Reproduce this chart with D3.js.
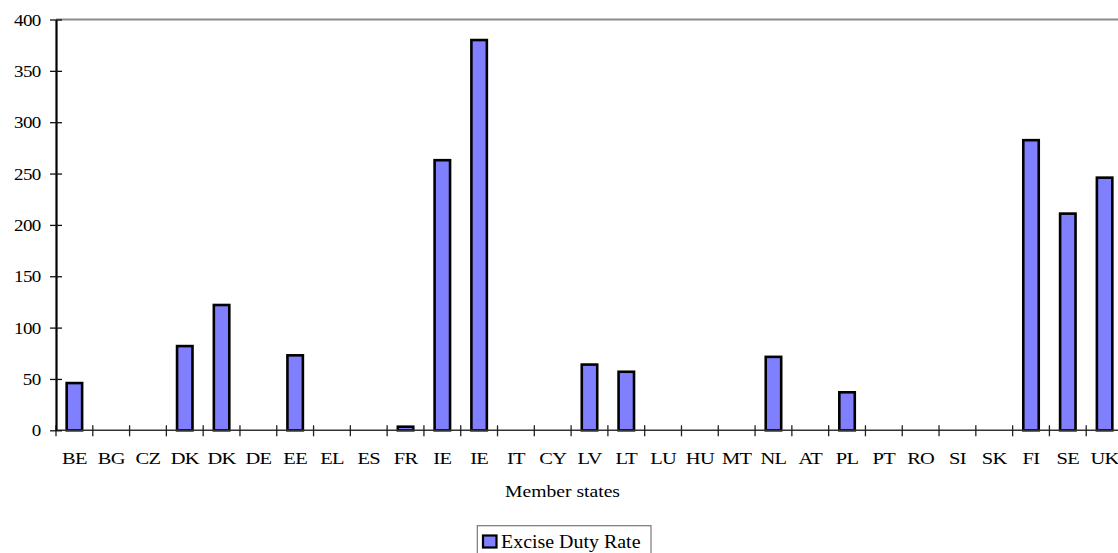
<!DOCTYPE html>
<html><head><meta charset="utf-8">
<script src="https://cdn.jsdelivr.net/npm/d3@7"></script>
<style>
html,body{margin:0;padding:0;background:#fff;}
svg{display:block;}
text{font-family:"Liberation Serif","Times New Roman",serif;fill:#000;}
</style></head>
<body>
<svg id="chart" width="1118" height="553"></svg>
<script>
const categories = ["BE","BG","CZ","DK","DK","DE","EE","EL","ES","FR","IE","IE","IT","CY","LV","LT","LU","HU","MT","NL","AT","PL","PT","RO","SI","SK","FI","SE","UK"];
const values = [46,0,0,82,122,0,73,0,0,3.5,263,380,0,0,64,57,0,0,0,71.5,0,37,0,0,0,0,282.5,211,246];
const yTicks = [0,50,100,150,200,250,300,350,400];
const seriesName = "Excise Duty Rate";
const xTitle = "Member states";

const svg = d3.select("#chart");
const mLeft = 56, mRight = 1123, mTop = 19.5, mBottom = 430.3;

const x = d3.scaleBand().domain(d3.range(categories.length)).range([mLeft, mRight])
  .paddingInner(0.58).paddingOuter(0.29);
const y = d3.scaleLinear().domain([0, 400]).range([mBottom, mTop]);

// top border of plot area
svg.append("line").attr("x1", mLeft).attr("x2", 1118).attr("y1", y(400)).attr("y2", y(400))
  .attr("stroke", "#8a8a8a").attr("stroke-width", 2);

// bars
svg.append("g").selectAll("rect").data(values.map((v, i) => ({v, i})).filter(d => d.v > 0)).join("rect")
  .attr("x", d => x(d.i))
  .attr("width", x.bandwidth())
  .attr("y", d => y(d.v))
  .attr("height", d => y(0) - y(d.v))
  .attr("fill", "#8080ff")
  .attr("stroke", "#000")
  .attr("stroke-width", 2.6);

// x axis: ticks at band boundaries
const step = x.step();
const boundaries = d3.range(categories.length + 1).map(i => mLeft + i * step);
const xg = svg.append("g");
xg.append("line").attr("x1", mLeft).attr("x2", 1118).attr("y1", mBottom).attr("y2", mBottom)
  .attr("stroke", "#333").attr("stroke-width", 1.6);
xg.selectAll("line.tk").data(boundaries).join("line").attr("class", "tk")
  .attr("x1", d => d).attr("x2", d => d).attr("y1", mBottom - 5).attr("y2", mBottom + 6)
  .attr("stroke", "#222").attr("stroke-width", 1.3);
xg.selectAll("text").data(categories).join("text")
  .attr("transform", (d, i) => `translate(${x(i) + x.bandwidth() / 2},${mBottom + 33.2}) scale(1.17,1)`)
  .attr("text-anchor", "middle")
  .attr("font-size", 17.5)
  .attr("letter-spacing", -0.6)
  .text(d => d);

// y axis
const yAxis = d3.axisLeft(y).tickValues(yTicks).tickSize(6).tickPadding(0).tickSizeOuter(0);
const yg = svg.append("g").attr("transform", `translate(${mLeft},0)`).call(yAxis);
yg.select(".domain").attr("stroke", "#000").attr("stroke-width", 2.2);
yg.selectAll(".tick line").attr("x1", 6).attr("x2", -6).attr("stroke", "#111").attr("stroke-width", 1.3);
yg.selectAll(".tick text")
  .attr("x", null).attr("dy", null)
  .attr("transform", "translate(-15.3,5.6) scale(1.15,1)")
  .attr("text-anchor", "end")
  .attr("font-size", 16.5)
  .attr("letter-spacing", -0.5)
  .attr("fill", "#000");

// x title
svg.append("text").attr("x", 562.5).attr("y", 496.5).attr("text-anchor", "middle")
  .attr("font-size", 17.5).attr("textLength", 115).attr("lengthAdjust", "spacingAndGlyphs")
  .text(xTitle);

// legend
const lg = svg.append("g");
lg.append("rect").attr("x", 477.3).attr("y", 525.7).attr("width", 173.7).attr("height", 40)
  .attr("fill", "#fff").attr("stroke", "#777").attr("stroke-width", 1.2);
lg.append("rect").attr("x", 483).attr("y", 535.5).attr("width", 13.5).attr("height", 12)
  .attr("fill", "#8080ff").attr("stroke", "#000").attr("stroke-width", 2.2);
lg.append("text").attr("x", 501).attr("y", 548.3).attr("font-size", 18.5)
  .attr("textLength", 139.5).attr("lengthAdjust", "spacingAndGlyphs")
  .text(seriesName);
</script>
</body></html>
